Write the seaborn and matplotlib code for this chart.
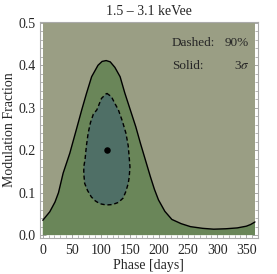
import numpy as np
import pandas as pd
import matplotlib
matplotlib.use("Agg")
import matplotlib.pyplot as plt
import seaborn as sns

# contour outlines: phase [days], modulation fraction
solid_phase = [0, 12, 21, 27, 35, 46.5, 49.5, 58, 67, 75, 84, 95, 102, 109, 116, 124, 133,
               141, 150.5, 160, 168, 176.5, 185, 192, 199, 210, 222, 238, 254, 275, 294,
               315, 334.5, 350, 357.5, 365]
solid_frac = [0.035, 0.055, 0.078, 0.100, 0.146, 0.193, 0.208, 0.250, 0.295, 0.333, 0.373,
              0.400, 0.409, 0.411, 0.408, 0.395, 0.373, 0.335, 0.295, 0.255, 0.216, 0.177,
              0.138, 0.108, 0.083, 0.056, 0.037, 0.027, 0.020, 0.016, 0.014, 0.015, 0.017,
              0.021, 0.025, 0.031]

dashed_phase = [110, 118, 124, 130, 137, 143, 147, 149, 150, 148.5, 147, 143, 138, 130, 120,
                109, 98, 90, 83.5, 77, 72, 70.5, 70.5, 72.6, 75, 78, 82, 87, 93, 101, 110]
dashed_frac = [0.334, 0.326, 0.310, 0.295, 0.268, 0.240, 0.210, 0.177, 0.160, 0.135, 0.122,
               0.103, 0.087, 0.077, 0.072, 0.071, 0.074, 0.081, 0.090, 0.105, 0.122, 0.145,
               0.161, 0.177, 0.210, 0.240, 0.265, 0.285, 0.295, 0.322, 0.334]

best_phase = [110]
best_frac = [0.20]

phase_max = 365
frac_max = 0.5

sns.set_style("ticks")
plt.rcParams['font.family'] = ['Liberation Serif', 'DejaVu Serif']
plt.rcParams['mathtext.fontset'] = 'stix'

fig = plt.figure(figsize=(2.77, 2.74), dpi=100)
ax = fig.add_axes([0.144, 0.131, 0.787, 0.789])

bg_col = '#9a9e84'
sig3_col = '#6a8659'
c90_col = '#4f6f66'

# background (excluded region)
ax.fill([0, phase_max, phase_max, 0], [0, 0, frac_max, frac_max], color=bg_col, lw=0, zorder=1)
# 3 sigma region
ax.fill([0] + solid_phase + [phase_max], [0] + solid_frac + [0], color=sig3_col, lw=0, zorder=2)
# 90% region
ax.fill(dashed_phase, dashed_frac, color=c90_col, lw=0, zorder=3)

solid_df = pd.DataFrame({'phase': solid_phase, 'frac': solid_frac})
dashed_df = pd.DataFrame({'phase': dashed_phase, 'frac': dashed_frac})
sns.lineplot(data=solid_df, x='phase', y='frac', sort=False, estimator=None,
             color='black', lw=1.0, ax=ax, zorder=4)
sns.lineplot(data=dashed_df, x='phase', y='frac', sort=False, estimator=None,
             color='black', lw=1.0, ax=ax, zorder=4, linestyle=(0, (3, 2)))
sns.scatterplot(x=best_phase, y=best_frac, color='black', s=22, ax=ax, zorder=5, linewidth=0)

ax.set_xlim(-5, 370)
ax.set_ylim(-0.007, 0.502)
ax.set_xticks(np.arange(0, 351, 50))
ax.set_yticks(np.arange(0, 0.51, 0.1))
ax.set_yticklabels(['0.0', '0.1', '0.2', '0.3', '0.4', '0.5'])
ax.set_xticks(np.arange(0, 366, 10), minor=True)
ax.set_yticks(np.arange(0, 0.5, 0.02), minor=True)
ax.tick_params(which='both', direction='in', top=True, right=True, color='#999999',
               labelsize=10)
ax.tick_params(axis='x', pad=4)
ax.tick_params(axis='y', pad=3)
ax.tick_params(which='major', length=4, width=0.6)
ax.tick_params(which='minor', length=2, width=0.5)
for s in ax.spines.values():
    s.set_color('#aaaaaa')
    s.set_linewidth(0.8)

ax.set_xlabel('Phase [days]', fontsize=10, labelpad=2)
ax.set_ylabel('Modulation Fraction', fontsize=10, labelpad=2)
ax.set_title('1.5 – 3.1 keVee', fontsize=10, pad=5)

ax.text(222, 0.453, 'Dashed:', fontsize=9.5, ha='left', va='center', zorder=6)
ax.text(355, 0.453, '90%', fontsize=9.5, ha='right', va='center', zorder=6)
ax.text(222, 0.398, 'Solid:', fontsize=9.5, ha='left', va='center', zorder=6)
ax.text(355, 0.398, r'3$\sigma$', fontsize=9.5, ha='right', va='center', zorder=6)

fig.savefig('out.png', dpi=100)
